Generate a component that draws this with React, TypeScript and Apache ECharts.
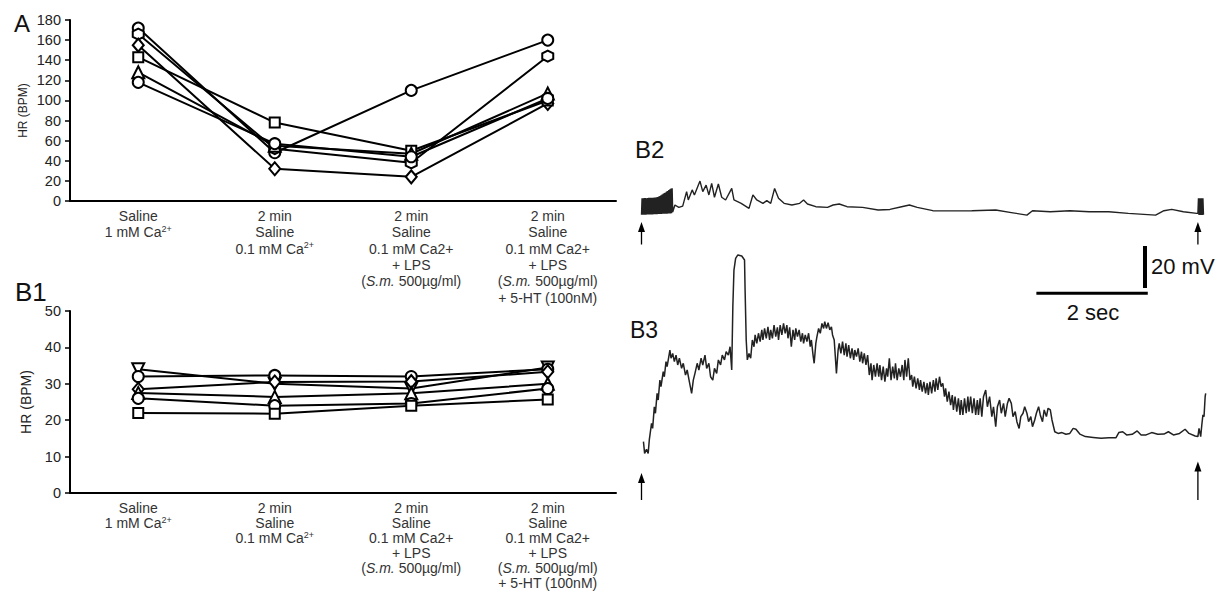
import React, { useEffect, useRef } from "react";
import * as echarts from "echarts";

const FONT = "'Liberation Sans', Arial, sans-serif";

const categories = [
  "Saline\n1 mM Ca{sup|2+}",
  "2 min\nSaline\n0.1 mM Ca{sup|2+}",
  "2 min\nSaline\n0.1 mM Ca2+\n+ LPS\n({it|S.m.} 500µg/ml)",
  "2 min\nSaline\n0.1 mM Ca2+\n+ LPS\n({it|S.m.} 500µg/ml)\n+ 5-HT (100nM)",
];

const HEX = "path://M0,-10L8.66,-5L8.66,5L0,10L-8.66,5L-8.66,-5Z";

// Panel A (HR, BPM)
const aCircle1 = [172, 48, 110, 160];
const aHexagon = [166, 52, 38, 144];
const aDiamond = [155, 32, 24, 97];
const aSquare = [143, 78, 50, 100];
const aTriangle = [128, 55, 47, 107];
const aCircle2 = [118, 57, 44, 102];

// Panel B1 (HR, BPM)
const b1InvTriangle = [34, 30, 28.7, 34.5];
const b1Circle1 = [32, 32.3, 32, 34];
const b1Diamond = [28.5, 30.5, 30.6, 33.3];
const b1Triangle = [27.5, 26.4, 27.4, 30];
const b1Circle2 = [26, 24, 24.6, 28.7];
const b1Square = [22, 21.8, 24, 25.7];

// B2 trace: [time s, mV]
const b2Trace: [number, number][] = [
  [0.0, -0.8], [0.01, 7.0], [0.02, -0.8], [0.03, 7.0], [0.04, -0.8], [0.05, 7.1], [0.06, -0.8], [0.07, 7.1],
  [0.08, -0.8], [0.09, 7.0], [0.1, -0.7], [0.11, 7.1], [0.12, -0.7], [0.13, 7.2], [0.14, -0.7], [0.15, 7.2],
  [0.16, -0.7], [0.17, 7.2], [0.18, -0.7], [0.19, 7.3], [0.2, -0.7], [0.21, 7.3], [0.22, -0.6], [0.23, 7.4],
  [0.24, -0.6], [0.25, 7.4], [0.26, -0.6], [0.27, 7.5], [0.28, -0.6], [0.29, 7.6], [0.3, -0.5], [0.31, 7.8],
  [0.32, -0.5], [0.33, 8.1], [0.34, -0.5], [0.35, 8.5], [0.36, -0.5], [0.37, 8.8], [0.38, -0.4], [0.39, 9.2],
  [0.4, -0.4], [0.41, 9.5], [0.42, -0.4], [0.43, 9.8], [0.44, -0.3], [0.45, 10.2], [0.46, -0.3], [0.47, 10.5],
  [0.48, -0.2], [0.49, 10.9], [0.5, -0.2], [0.51, 11.3], [0.52, -0.2], [0.53, 11.6], [0.54, -0.1], [0.55, 11.8],
  [0.56, 0.5],
  [0.6, 3.8], [0.67, 2.7], [0.74, 3.3], [0.81, 10.2], [0.84, 6.2], [0.91, 11.0], [0.95, 8.6], [1.05, 15.2],
  [1.1, 10.2], [1.16, 13.3], [1.21, 8.6], [1.26, 14.1], [1.31, 7.5], [1.38, 13.8], [1.44, 7.5], [1.51, 6.2],
  [1.62, 11.7], [1.66, 6.2], [1.79, 4.6], [1.93, 2.2], [2.0, 8.6], [2.07, 6.2], [2.18, 4.6], [2.25, 5.9],
  [2.32, 4.6], [2.39, 11.7], [2.46, 7.0], [2.56, 4.6], [2.7, 3.8], [2.84, 4.6], [2.91, 6.2], [2.98, 4.3],
  [3.13, 3.0], [3.34, 2.7], [3.44, 3.8], [3.55, 4.3], [3.69, 3.0], [3.97, 2.7], [4.25, 1.4], [4.46, 1.7],
  [4.67, 3.0], [4.81, 3.8], [4.95, 2.7], [5.23, 1.1], [5.51, 1.0], [5.93, 1.1], [6.36, 1.4], [6.64, 0.2],
  [6.92, -1.0], [7.02, 1.1], [7.34, 0.6], [7.69, 1.1], [8.04, 0.6], [8.39, 0.6], [8.74, -0.2], [9.23, -1.0],
  [9.38, 1.1], [9.52, 1.7], [9.73, 0.6], [9.97, -0.2],
  [9.99, -0.2], [10.0, 7.0], [10.01, -1.0], [10.02, 7.0], [10.03, -1.0], [10.04, 7.0], [10.05, -1.0],
  [10.06, 7.0], [10.07, -1.0], [10.08, 7.0], [10.09, -0.8],
];

// B3 trace: [time s, mV]
const b3Trace: [number, number][] = [
  [0.035, -2.2], [0.056, -7.8], [0.09, -5.9], [0.12, -7.8], [0.14, -1.4],
  [0.18, 6.5], [0.2, 4.1], [0.23, 14.4], [0.25, 11.3], [0.28, 20.8], [0.3, 17.6], [0.33, 27.1], [0.35, 24.0],
  [0.39, 31.1], [0.41, 28.7], [0.44, 35.9], [0.46, 33.5], [0.51, 41.4], [0.53, 37.5], [0.56, 39.8], [0.59, 35.9],
  [0.62, 39.0], [0.65, 34.3], [0.68, 37.5], [0.72, 32.7], [0.75, 35.1], [0.79, 29.5], [0.82, 31.9], [0.86, 26.3],
  [0.9, 20.8], [0.93, 27.1], [0.96, 30.3], [1.0, 35.1], [1.03, 31.9], [1.07, 37.5], [1.1, 34.3], [1.14, 39.0],
  [1.17, 32.7], [1.21, 35.1], [1.24, 28.7], [1.28, 27.1], [1.31, 32.7], [1.35, 30.3], [1.38, 36.7], [1.42, 34.3],
  [1.45, 39.0], [1.49, 36.7], [1.52, 40.6], [1.56, 39.0], [1.59, 43.0], [1.62, 31.9],
  [1.64, 62.0], [1.66, 79.5], [1.69, 85.1], [1.73, 86.7], [1.8, 86.2], [1.85, 84.3], [1.86, 70.0], [1.88, 46.2],
  [1.9, 36.7],
  [1.93, 39.8], [1.96, 37.5], [1.99, 46.2], [2.02, 43.0], [2.04, 48.6], [2.07, 44.6], [2.1, 49.4], [2.13, 45.4],
  [2.16, 51.0], [2.18, 46.2], [2.21, 51.7], [2.24, 47.0], [2.27, 52.5], [2.3, 46.2], [2.32, 51.0], [2.35, 47.0],
  [2.38, 53.3], [2.41, 47.8], [2.44, 52.2], [2.46, 46.2], [2.49, 53.3], [2.52, 48.6], [2.55, 54.1], [2.58, 49.4],
  [2.61, 53.3], [2.63, 47.0], [2.66, 52.2], [2.69, 43.0], [2.72, 51.0], [2.75, 46.2], [2.77, 51.7], [2.8, 47.8],
  [2.83, 51.0], [2.86, 45.4], [2.89, 49.4], [2.91, 44.6], [2.94, 48.6], [2.97, 45.4], [3.0, 49.4], [3.03, 43.0],
  [3.05, 46.2], [3.08, 39.0], [3.1, 35.1], [3.13, 44.6], [3.15, 47.8], [3.18, 51.7], [3.21, 49.4], [3.24, 54.1],
  [3.27, 51.7], [3.29, 54.9], [3.32, 51.7], [3.35, 54.4], [3.38, 51.0], [3.41, 52.5], [3.43, 48.6], [3.46, 46.2],
  [3.48, 38.3], [3.5, 30.3], [3.53, 41.4], [3.55, 44.6], [3.58, 39.8], [3.61, 45.4], [3.64, 39.0], [3.67, 44.6],
  [3.69, 38.3], [3.72, 43.8], [3.75, 37.5], [3.78, 42.2], [3.81, 36.7], [3.83, 41.4], [3.86, 38.3], [3.89, 42.2],
  [3.92, 35.9], [3.95, 40.6], [3.97, 35.1], [4.0, 39.8], [4.03, 34.3], [4.06, 39.0], [4.09, 29.5], [4.12, 35.1],
  [4.14, 27.1], [4.17, 34.3], [4.2, 28.7], [4.23, 35.1], [4.26, 28.7], [4.28, 34.3], [4.31, 27.1], [4.34, 33.5],
  [4.37, 26.3], [4.4, 32.7], [4.42, 28.7], [4.45, 37.5], [4.48, 27.1], [4.51, 33.5], [4.54, 27.9], [4.56, 35.1],
  [4.59, 27.1], [4.62, 32.7], [4.65, 28.7], [4.68, 34.3], [4.71, 27.1], [4.73, 36.7], [4.76, 28.7], [4.79, 37.5],
  [4.82, 27.1], [4.85, 29.5], [4.87, 24.0], [4.9, 28.7], [4.93, 23.2], [4.96, 27.9], [4.99, 22.4], [5.01, 27.1],
  [5.04, 21.6], [5.07, 26.3], [5.1, 20.8], [5.13, 25.6], [5.15, 20.0], [5.18, 26.3], [5.21, 20.8], [5.24, 27.1],
  [5.27, 21.6], [5.29, 27.9], [5.32, 22.4], [5.35, 28.7], [5.38, 24.0], [5.41, 25.6], [5.44, 19.2], [5.46, 23.2],
  [5.49, 16.8], [5.52, 21.6], [5.55, 15.2], [5.58, 20.0], [5.6, 12.9], [5.63, 19.2], [5.66, 12.1], [5.69, 18.4],
  [5.72, 10.5], [5.74, 17.6], [5.77, 10.5], [5.8, 18.4], [5.83, 11.3], [5.86, 19.2], [5.88, 12.1], [5.91, 19.2],
  [5.94, 11.3], [5.97, 18.4], [6.0, 10.5], [6.03, 17.6], [6.05, 10.5], [6.08, 18.4], [6.11, 9.7], [6.14, 19.2],
  [6.18, 22.4], [6.21, 14.4], [6.25, 19.2], [6.29, 9.7], [6.32, 14.4], [6.36, 4.9], [6.39, 14.4], [6.43, 17.6],
  [6.46, 11.3], [6.5, 16.0], [6.53, 9.7], [6.57, 16.0], [6.6, 18.4], [6.64, 16.0], [6.67, 9.7], [6.71, 12.1],
  [6.74, 7.3], [6.78, 4.1], [6.81, 9.7], [6.85, 11.3], [6.88, 14.4], [6.92, 11.3], [6.95, 7.3], [6.99, 9.7],
  [7.02, 4.9], [7.06, 8.1], [7.09, 11.3], [7.13, 14.4], [7.16, 10.5], [7.2, 7.3], [7.23, 12.9], [7.27, 9.7],
  [7.3, 13.7], [7.34, 12.9], [7.37, 8.1], [7.42, 2.5], [7.48, 1.7], [7.55, 2.1], [7.62, 1.3], [7.69, 1.7],
  [7.75, 4.1], [7.8, 3.7], [7.87, 1.4], [7.97, 0.2], [8.11, -0.2], [8.25, -0.6], [8.39, -0.3], [8.52, -0.3],
  [8.57, 2.1], [8.64, 2.5], [8.71, 1.0], [8.81, 1.3], [8.9, 2.9], [8.97, 1.0], [9.06, 1.0], [9.16, 2.1],
  [9.27, 1.3], [9.38, 1.4], [9.46, 2.5], [9.55, 1.0], [9.66, 1.7], [9.76, 3.7], [9.83, 1.7], [9.94, 0.5],
  [9.99, 0.2], [10.01, 4.1], [10.04, 0.2], [10.06, 5.7], [10.08, 10.5], [10.1, 9.7], [10.12, 19.2], [10.13, 20.8],
];

// stimulus arrows (time, s)
const b2ArrowTimes = [0, 9.99];
const b3ArrowTimes = [0, 9.99];

// scale bars
const scaleBarSec = 2;
const scaleBarMv = 20;

const markerStyle = { color: "#fff", borderColor: "#000", borderWidth: 2 };

function hrSeries(axis: number, values: number[], symbol: string, size: any, rotate = 0) {
  return {
    type: "line",
    xAxisIndex: axis,
    yAxisIndex: axis,
    data: values,
    symbol,
    symbolSize: size,
    symbolRotate: rotate,
    showAllSymbol: true,
    lineStyle: { color: "#000", width: 2 },
    itemStyle: markerStyle,
    emphasis: { disabled: true },
    silent: true,
    z: 3,
  };
}

function catAxis(grid: number, lineHeight: number, margin: number) {
  return {
    gridIndex: grid,
    type: "category",
    data: categories,
    boundaryGap: true,
    axisLine: { lineStyle: { color: "#000", width: 2 } },
    axisTick: { alignWithLabel: true, length: 5, lineStyle: { color: "#000", width: 1.5 } },
    axisLabel: {
      interval: 0,
      margin,
      color: "#333",
      fontSize: 14,
      lineHeight,
      fontFamily: FONT,
      rich: {
        sup: { fontSize: 9, verticalAlign: "top", lineHeight, color: "#333", fontFamily: FONT },
        it: { fontSize: 14, fontStyle: "italic", lineHeight, color: "#333", fontFamily: FONT },
      },
    },
  };
}

function hrAxis(grid: number, max: number, interval: number, nameSize: number, nameGap: number) {
  return {
    gridIndex: grid,
    type: "value",
    min: 0,
    max,
    interval,
    name: "HR (BPM)",
    nameLocation: "middle",
    nameGap,
    nameTextStyle: { fontSize: nameSize, color: "#222", fontFamily: FONT },
    axisLine: { show: true, lineStyle: { color: "#000", width: 2 } },
    axisTick: { show: true, length: 5, lineStyle: { color: "#000", width: 1.5 } },
    splitLine: { show: false },
    axisLabel: { fontSize: 14.5, margin: 9, color: "#222", fontFamily: FONT },
  };
}

function traceSeries(axis: number, data: [number, number][], width: number) {
  return {
    type: "line",
    xAxisIndex: axis,
    yAxisIndex: axis,
    data,
    symbol: "none",
    lineStyle: { color: "#222", width },
    silent: true,
    z: 2,
  };
}

function arrowSeries(axis: number, t: number, from: number, to: number) {
  return {
    type: "line",
    xAxisIndex: axis,
    yAxisIndex: axis,
    data: [
      { value: [t, from], symbol: "none" },
      { value: [t, to], symbol: "triangle", symbolSize: [7, 10] },
    ],
    lineStyle: { color: "#000", width: 1.3 },
    itemStyle: { color: "#000" },
    silent: true,
  };
}

function barSeries(axis: number, data: [number, number][], width: number) {
  return {
    type: "line",
    xAxisIndex: axis,
    yAxisIndex: axis,
    data,
    symbol: "none",
    lineStyle: { color: "#000", width, cap: "butt" },
    silent: true,
  };
}

function text(x: number, y: number, str: string, size: number, align = "left") {
  return {
    type: "text",
    x,
    y,
    silent: true,
    style: {
      text: str,
      fontSize: size,
      fontFamily: FONT,
      fill: "#111",
      align,
      verticalAlign: "middle",
      textAlign: align,
      textVerticalAlign: "middle",
    },
  };
}

export default function App() {
  const ref = useRef<HTMLDivElement>(null);
  useEffect(() => {
    if (!ref.current) return;
    const chart = echarts.init(ref.current, undefined, { renderer: "svg" });
    const barT = 7.09;
    const barV = 68.5;
    const option: any = {
      animation: false,
      backgroundColor: "#fff",
      textStyle: { fontFamily: FONT },
      grid: [
        { left: 70, top: 20, width: 546, height: 181 },
        { left: 70, top: 311, width: 546, height: 182 },
        { left: 641.5, top: 175.2, width: 568.1, height: 75.6 },
        { left: 641.5, top: 235.4, width: 568.1, height: 268.8 },
      ],
      xAxis: [
        catAxis(0, 16.3, 7),
        catAxis(1, 15, 7),
        { gridIndex: 2, type: "value", min: 0, max: 10.2, show: false },
        { gridIndex: 3, type: "value", min: 0, max: 10.2, show: false },
      ],
      yAxis: [
        hrAxis(0, 180, 20, 12, 41),
        hrAxis(1, 50, 10, 14, 37),
        { gridIndex: 2, type: "value", min: -18, max: 18, show: false },
        { gridIndex: 3, type: "value", min: -32, max: 96, show: false },
      ],
      series: [
        hrSeries(0, aCircle1, "circle", 11),
        hrSeries(0, aHexagon, HEX, 11),
        hrSeries(0, aDiamond, "diamond", [11, 13]),
        hrSeries(0, aSquare, "rect", 10),
        hrSeries(0, aTriangle, "triangle", 12),
        hrSeries(0, aCircle2, "circle", 11),
        hrSeries(1, b1InvTriangle, "triangle", 12, 180),
        hrSeries(1, b1Circle1, "circle", 11),
        hrSeries(1, b1Diamond, "diamond", [11, 13]),
        hrSeries(1, b1Triangle, "triangle", 12),
        hrSeries(1, b1Circle2, "circle", 11),
        hrSeries(1, b1Square, "rect", 10),
        traceSeries(2, b2Trace, 1.4),
        traceSeries(3, b3Trace, 1.5),
        ...b2ArrowTimes.map((t) => arrowSeries(2, t, -15, -6.7)),
        arrowSeries(3, b3ArrowTimes[0], -30, -19.5),
        arrowSeries(3, b3ArrowTimes[1], -30, -14),
        barSeries(3, [[barT, barV], [barT + scaleBarSec, barV]], 3),
        barSeries(3, [[barT + scaleBarSec - 0.05, barV + 2.5], [barT + scaleBarSec - 0.05, barV + 2.5 + scaleBarMv]], 4),
      ],
      graphic: [
        text(14, 23, "A", 24),
        text(15, 292, "B1", 26),
        text(635, 149, "B2", 24),
        text(630, 330, "B3", 23),
        text(1151, 266, "20 mV", 22),
        text(1093, 312, "2 sec", 22, "center"),
      ],
    };
    chart.setOption(option);
    return () => chart.dispose();
  }, []);
  return <div ref={ref} style={{ position: "absolute", left: 0, top: 0, width: 1231, height: 598 }} />;
}
